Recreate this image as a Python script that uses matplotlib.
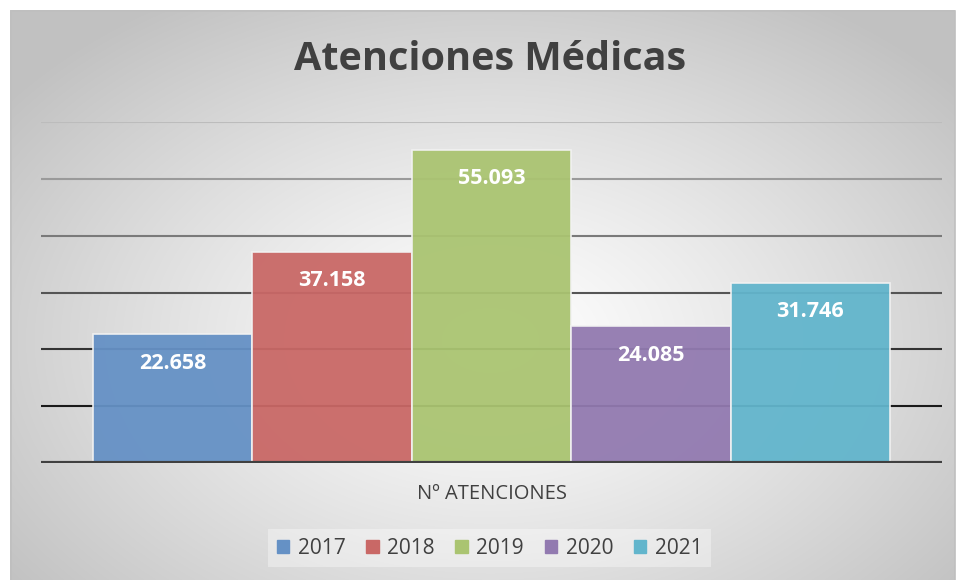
import matplotlib.pyplot as plt
import numpy as np
from matplotlib.patches import Rectangle

# Data
years = ["2017", "2018", "2019", "2020", "2021"]
values = [22658, 37158, 55093, 24085, 31746]
labels = ["22.658", "37.158", "55.093", "24.085", "31.746"]
colors = ['#6591c5', '#c96866', '#aac471', '#927ab0', '#62b5cc']
category = "Nº ATENCIONES"
grid_values = [10000, 20000, 30000, 40000, 50000, 60000]
grid_colors = ['#1a1a1a', '#333333', '#555555', '#7a7a7a', '#9a9a9a', '#bcbcbc']

plt.rcParams['font.family'] = ['Open Sans', 'DejaVu Sans']

fig = plt.figure(figsize=(9.6, 5.8), dpi=100)

# Background radial gradient
bg = fig.add_axes([0, 0, 1, 1], zorder=0)
W, H = 960, 580
xx, yy = np.meshgrid(np.arange(W), np.arange(H))
cx, cy = 490, 340
r = np.sqrt(((xx - cx) / 600.0) ** 2 + ((yy - cy) / 400.0) ** 2)
shade = 1.0 - 0.24 * np.clip(r, 0, 1) ** 1.2
img = np.dstack([shade, shade, shade])
img[:10, :, :] = 1.0
img[:, :10, :] = 1.0
img[:, 955:, :] = 1.0
bg.imshow(img, extent=[0, W, H, 0], aspect='auto')
bg.add_patch(Rectangle((10.5, 10.5), 944, 600, fill=False, edgecolor='#bfbfbf', linewidth=1.2))
bg.set_xlim(0, W)
bg.set_ylim(H, 0)
bg.axis('off')

# Main plot
ax = fig.add_axes([41 / W, (580 - 463) / H, (942 - 41) / W, (463 - 122) / H], zorder=1)
ax.patch.set_alpha(0)

x = np.arange(len(values))
for yv, gc in zip(grid_values, grid_colors):
    ax.axhline(yv, color=gc, linewidth=1.5, zorder=1)

bars = ax.bar(x, values, width=1.0, color=colors, alpha=0.95,
              edgecolor='#f2f2f2', linewidth=1.2, zorder=2)

for xi, v, lab in zip(x, values, labels):
    ax.text(xi, v - 5100, lab, ha='center', va='center', color='white',
            fontsize=15.5, fontweight='bold', zorder=4)

ax.axhline(0, color='#404040', linewidth=3, zorder=3)

gap = 0.326
ax.set_xlim(-0.5 - gap, len(values) - 0.5 + gap)
ax.set_ylim(0, 60000)
for s in ax.spines.values():
    s.set_visible(False)
ax.set_xticks([])
ax.set_yticks([])

# Title and category label
fig.text(0.51, 1 - 60 / H, "Atenciones Médicas", ha='center', va='center',
         fontsize=28.5, fontweight='bold', color='#404040')
fig.text(0.512, 1 - 494 / H, category, ha='center', va='center',
         fontsize=14.5, color='#404040')

# Legend
handles = [Rectangle((0, 0), 1, 1, color=c) for c in colors]
leg = fig.legend(handles, years, loc='center', bbox_to_anchor=(0.51, 1 - 548 / H),
                 ncol=5, frameon=True, fontsize=15, handlelength=0.6, handleheight=0.6,
                 handletextpad=0.4, columnspacing=1.0, labelcolor='#404040',
                 fancybox=False, borderpad=0.4)
leg.get_frame().set_facecolor('white')
leg.get_frame().set_alpha(0.35)
leg.get_frame().set_linewidth(0)

fig.savefig('out.png', dpi=100)
